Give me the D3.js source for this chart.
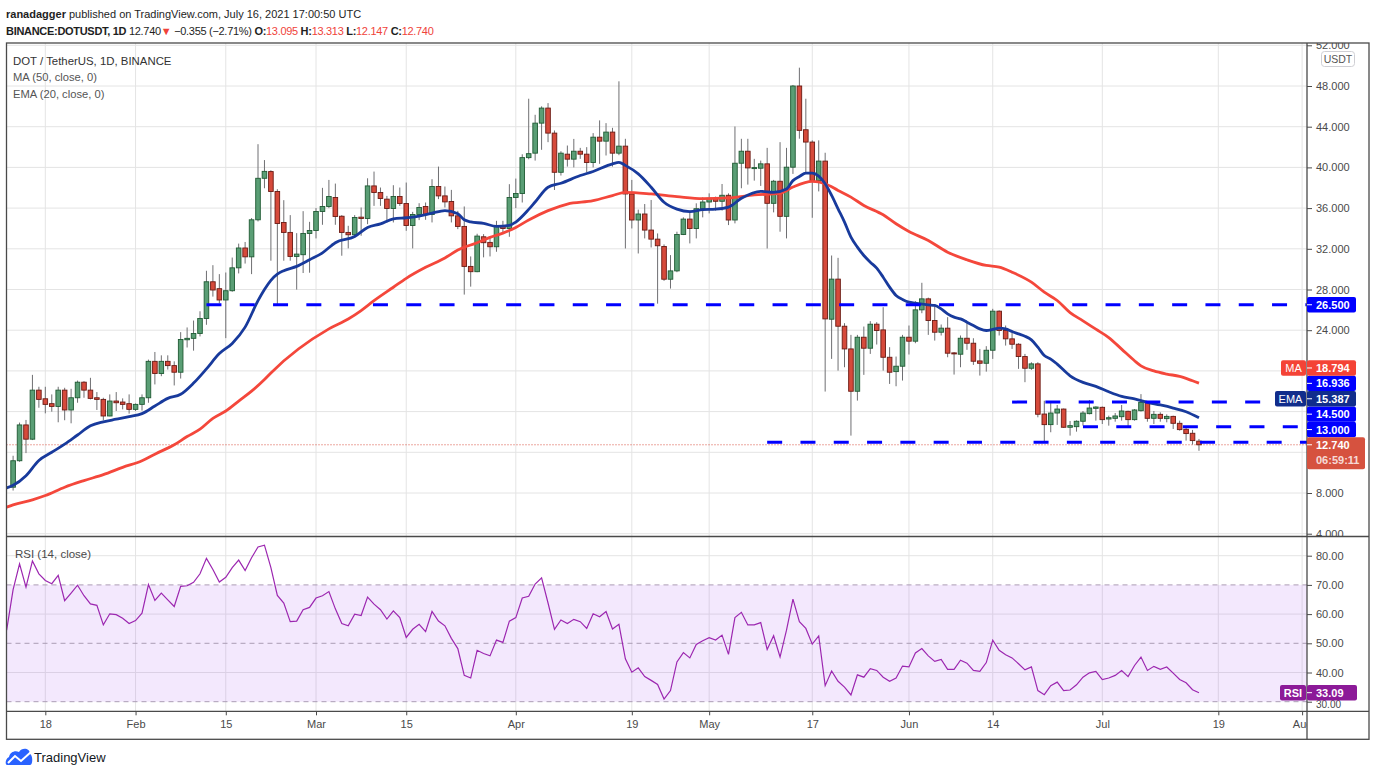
<!DOCTYPE html>
<html><head><meta charset="utf-8">
<script src="https://cdnjs.cloudflare.com/ajax/libs/d3/7.8.5/d3.min.js"></script>
<style>
html,body{margin:0;padding:0;background:#fff;}
svg{display:block;font-family:"Liberation Sans",Arial,sans-serif;}
</style></head>
<body>
<svg id="c" width="1376" height="776"></svg>
<script>
// ===== DATA (DOT/USDT daily, first candle 2021-01-13) =====
const firstDay = [2021, 0, 13];
const open = [
8.57,11.17,14.69,13.29,18.11,17.26,16.78,16.51,18.11,16.16,
17.36,18.89,18.11,17.36,17.20,15.57,17.04,16.94,16.78,16.22,
16.71,17.36,20.94,19.74,20.94,20.52,19.87,23.06,23.20,23.68,
25.15,28.76,28.08,26.97,27.88,30.13,32.08,31.21,34.85,38.93,
39.59,37.63,34.59,33.61,31.25,31.42,33.51,33.80,35.67,36.16,
37.04,35.20,33.61,33.38,35.11,34.98,38.18,37.53,36.88,35.96,
37.14,36.45,34.29,35.37,36.16,35.37,38.12,37.20,36.65,35.24,
34.20,30.27,29.75,33.18,32.63,32.20,34.29,34.00,37.04,37.43,
40.96,41.40,44.35,45.83,43.37,39.52,41.30,40.81,41.59,41.30,
40.48,42.97,42.58,43.47,41.40,42.09,37.39,34.83,35.42,33.84,
32.95,32.23,29.01,29.83,33.41,34.92,34.00,35.94,36.60,36.96,
36.67,37.26,34.83,40.41,41.59,39.90,39.92,40.35,36.47,38.64,
35.19,40.02,48.00,43.70,42.49,38.72,40.62,25.08,29.02,24.39,
22.16,18.00,23.31,22.23,24.59,24.03,21.34,19.93,20.46,23.31,
22.92,26.00,27.08,24.95,23.80,24.20,21.77,21.64,23.21,22.72,
20.98,20.75,22.03,25.87,23.97,23.15,22.62,21.41,20.26,20.69,
15.76,14.72,15.86,16.25,14.46,14.52,15.05,15.80,16.32,16.42,
15.27,15.34,15.50,16.03,15.21,16.09,16.91,15.34,15.73,15.31,
15.53,14.85,14.26,13.87,13.095];
const high = [
11.66,14.92,15.18,19.61,18.44,18.44,17.69,18.44,18.34,18.24,
19.05,18.99,19.32,17.92,17.36,17.69,17.92,17.30,17.69,16.80,
17.69,21.11,21.86,21.53,21.53,20.94,23.81,24.27,24.95,25.86,
29.84,30.39,29.51,29.67,31.14,32.51,32.67,35.02,42.28,40.72,
39.72,37.86,36.78,35.31,33.54,35.70,34.65,36.00,37.99,38.77,
38.41,35.31,34.26,35.31,36.06,38.93,39.59,38.02,37.20,38.25,
38.02,38.51,35.63,36.48,36.55,38.84,40.08,38.12,37.79,35.73,
36.16,31.25,33.48,33.44,33.18,34.75,34.75,38.35,38.90,41.29,
46.75,45.17,46.00,46.32,43.63,41.59,42.15,42.80,41.92,41.99,
43.37,44.62,44.35,43.89,48.46,42.81,38.77,35.85,36.40,36.80,
33.51,32.43,31.38,33.68,35.09,35.75,36.47,37.06,37.45,37.13,
38.37,37.45,44.02,42.81,42.81,40.84,40.67,41.92,38.77,42.48,
41.92,48.10,49.80,46.75,42.66,42.66,41.44,31.34,31.11,24.69,
23.54,23.54,24.36,24.89,24.79,26.26,22.33,21.41,23.54,24.46,
26.85,28.66,27.20,26.56,24.56,25.28,21.85,23.48,24.69,23.21,
22.16,22.43,26.10,25.95,24.46,23.97,22.72,21.67,20.85,20.85,
17.07,16.84,16.65,16.30,15.08,15.14,16.06,17.14,16.52,16.50,
15.60,15.86,16.65,16.09,16.25,17.72,17.00,16.06,15.93,15.73,
15.60,15.11,14.52,14.20,13.313];
const low = [
8.24,11.07,11.92,13.20,16.38,15.83,15.99,14.95,15.15,14.85,
16.87,17.36,17.20,16.16,15.15,15.54,16.06,16.22,15.80,16.06,
16.10,16.87,18.67,19.48,20.13,18.57,19.25,22.30,21.99,23.39,
24.53,27.30,26.64,23.22,27.78,29.58,30.55,29.51,34.69,37.95,
30.83,26.58,30.83,30.83,27.99,29.62,29.65,33.02,34.36,36.00,
34.36,31.32,32.04,33.28,33.28,34.42,36.22,36.22,34.59,34.59,
36.22,33.77,32.04,34.82,34.85,34.59,36.88,36.06,34.59,33.93,
27.50,28.28,29.70,31.16,31.25,31.71,33.54,33.18,36.00,36.55,
40.80,40.67,41.73,42.48,37.78,39.20,40.08,40.00,40.84,39.52,
40.00,40.35,41.17,40.08,41.20,32.03,34.00,31.54,33.02,32.13,
26.61,28.85,28.09,29.70,33.35,32.53,33.02,35.09,35.48,35.75,
35.75,34.33,34.50,37.95,38.31,38.70,38.18,32.03,35.58,33.68,
33.02,39.36,42.82,39.38,35.05,37.64,17.97,21.18,20.03,20.36,
13.64,17.08,19.61,21.67,22.59,20.03,18.72,18.49,19.05,21.61,
22.72,25.67,23.54,22.98,23.48,21.34,19.64,20.36,22.07,20.59,
19.54,19.93,21.18,23.48,22.49,22.16,20.20,18.89,20.10,15.44,
13.08,13.97,14.69,14.40,13.64,14.03,14.62,15.73,15.11,14.78,
14.62,15.01,15.11,14.56,15.11,16.00,15.01,14.78,15.01,14.95,
14.29,14.13,13.15,12.76,12.147];
const close = [
11.17,14.69,13.29,18.11,17.20,16.71,16.51,18.11,16.16,17.36,
18.89,18.11,17.30,17.20,15.57,17.04,16.87,16.71,16.22,16.71,
17.36,20.94,19.74,20.94,20.52,19.87,23.09,23.20,23.68,25.15,
28.76,27.95,26.97,27.88,30.13,32.08,31.21,34.85,38.93,39.61,
37.63,34.49,33.61,31.25,31.48,33.51,33.80,35.67,36.16,37.14,
35.18,33.61,33.38,35.08,34.98,38.18,37.53,36.94,35.96,37.14,
36.45,34.29,35.37,36.06,35.37,38.12,37.20,36.61,35.24,34.20,
30.27,29.75,33.25,32.60,32.20,34.29,34.00,37.04,37.43,40.96,
41.35,44.35,45.83,43.37,39.52,41.40,40.81,41.59,41.30,40.48,
42.97,42.58,43.47,41.40,42.09,37.39,34.83,35.42,33.84,32.95,
32.30,29.01,29.83,33.41,34.92,34.00,35.94,36.60,36.96,36.67,
37.26,34.83,40.41,41.59,39.95,39.98,40.35,36.47,38.64,35.19,
40.02,48.00,43.64,42.49,38.72,40.62,25.11,29.02,24.39,22.16,
18.00,23.31,22.23,24.59,23.97,21.34,19.87,20.46,23.31,22.92,
26.00,27.08,24.95,23.80,24.20,21.74,21.67,23.21,22.72,20.95,
20.75,22.03,25.87,23.97,23.15,22.62,21.41,20.26,20.69,15.74,
14.72,15.86,16.25,14.46,14.62,15.05,15.86,16.35,16.45,15.21,
15.40,15.57,16.06,15.21,16.16,16.91,15.34,15.73,15.34,15.53,
14.85,14.23,13.84,13.15,12.74];
// MA(50) and EMA(20): [day index from first candle, value]
const ma50 = [[-1,6.61],[0,6.84],[3,7.33],[5,7.75],[8,8.57],[11,9.22],[14,9.8],[17,10.52],[20,11.17],[22,11.82],
[25,12.74],[27,13.55],[29,14.27],[31,15.33],[33,16.06],[35,17.04],[37,18.01],[39,19.15],[40,19.8],[49,24.13],
[52,25.1],[54,25.93],[56,26.9],[59,28.22],[61,29.1],[64,30.18],[67,31.1],[69,31.88],[72,32.6],[74,33.12],
[76,33.54],[78,34.1],[80,34.83],[83,35.75],[86,36.4],[90,36.73],[93,37.23],[95,37.55],[99,37.39],[103,37.13],
[107,36.93],[111,37.0],[115,37.29],[119,37.45],[121,38.07],[124,38.62],[126,38.39],[128,37.74],[130,37.08],[132,36.26],
[135,35.34],[137,34.46],[139,33.7],[142,32.82],[145,31.67],[148,30.92],[151,30.36],[153,30.2],[155,29.7],[158,28.72],
[160,27.74],[162,26.92],[164,25.73],[166,24.92],[168,24.1],[170,23.28],[172,22.14],[174,21.0],[175,20.5],[177,20.0],
[179,19.69],[181,19.46],[183,19.03],[184,18.794]];
const ema20 = [[-1,8.5],[0,8.75],[2,9.7],[4,11.2],[6,12.0],[8,12.8],[10,13.7],[12,14.6],[14,15.0],[16,15.25],
[18,15.5],[20,15.8],[22,16.55],[24,17.3],[26,17.7],[28,18.8],[30,20.2],[32,21.7],[34,22.7],[36,24.3],
[38,26.9],[39,28.0],[40,28.9],[41,29.5],[42,29.85],[44,30.27],[46,30.92],[48,31.6],[50,32.6],[53,33.2],
[55,34.1],[57,34.45],[59,34.95],[61,35.05],[63,35.2],[65,35.5],[67,35.76],[69,35.45],[70,34.85],[71,34.65],
[73,34.5],[75,34.2],[77,34.3],[78,34.63],[80,35.87],[81,36.6],[83,38.05],[85,38.44],[88,39.2],[90,39.6],
[93,40.35],[94,40.5],[95,40.2],[97,39.36],[99,38.05],[101,36.57],[103,35.9],[105,35.65],[107,35.85],[109,35.9],
[111,36.1],[113,36.96],[116,37.65],[118,37.55],[120,37.88],[121,38.7],[122,39.1],[123,39.44],[124,39.44],[125,39.15],
[126,38.39],[127,37.25],[128,35.93],[129,34.62],[130,33.15],[131,32.16],[132,31.34],[133,30.69],[134,30.1],[135,29.21],
[136,28.23],[137,27.41],[138,27.02],[139,26.75],[140,26.66],[142,26.49],[143,26.43],[144,26.1],[145,25.61],[146,25.28],
[147,25.11],[148,24.79],[149,24.46],[150,24.13],[151,23.97],[152,24.07],[153,24.2],[154,24.13],[155,23.87],[156,23.64],
[157,23.41],[158,23.05],[159,22.33],[160,21.51],[161,21.16],[162,20.67],[164,19.52],[166,18.87],[168,18.48],[170,17.95],
[172,17.5],[174,17.24],[176,16.91],[178,16.65],[180,16.35],[182,15.99],[184,15.387]];
// RSI(14) daily, first value is the day before the first candle
const rsi = [
54.5,68.4,77.2,69.2,78.2,73.8,71.5,70.4,73.3,64.6,
67.2,69.9,66.3,63.5,63.0,56.3,60.1,59.8,58.6,56.8,
57.8,60.3,70.1,64.7,67.2,64.9,62.6,69.5,69.7,70.9,
73.8,79.1,75.3,71.0,72.6,75.9,78.5,74.9,79.3,83.0,
83.6,75.9,66.4,63.8,57.4,57.6,61.5,62.3,65.5,66.3,
67.7,61.8,56.8,56.0,60.0,59.5,65.8,63.4,61.5,58.3,
61.1,58.8,52.0,54.8,56.5,54.0,60.9,57.6,56.0,51.7,
48.2,39.0,38.1,47.6,46.5,45.7,51.1,50.3,57.6,58.8,
65.5,66.1,70.3,72.4,63.8,54.8,58.0,56.8,58.2,57.4,
55.1,60.1,59.1,60.9,54.9,56.5,44.7,40.1,41.6,38.6,
37.3,35.9,30.9,33.8,43.6,46.8,45.0,49.6,50.9,51.9,
51.1,52.8,46.2,58.8,60.6,56.3,56.3,57.1,47.9,52.6,
45.3,54.5,65.1,57.4,55.1,49.7,52.5,35.5,40.5,37.0,
35.0,32.3,39.2,38.4,41.3,40.7,38.4,37.0,38.1,42.2,
41.9,46.7,48.2,45.7,43.8,44.5,41.1,41.1,44.2,43.2,
40.7,40.4,43.4,51.1,47.6,46.1,45.0,43.0,40.9,41.9,
33.8,32.4,35.5,36.7,33.8,34.0,35.8,38.4,39.9,40.4,
37.6,38.1,39.0,40.7,38.6,42.4,45.3,40.7,42.1,41.1,
41.9,39.8,37.6,36.5,34.1,33.09];
// horizontal drawn levels: value and first day index
const levelValues = [26.5, 16.936, 14.5, 13.0];
const levelStartDay = [30.2, 155.9, 166.9, 117.9];
const priceTicks = [4,8,12,16,20,24,28,32,36,40,44,48,52];
const rsiTicks = [30,40,50,60,70,80];
const timeTickDates = [[0,18],[1,1],[1,15],[2,1],[2,15],[3,1],[3,19],[4,1],[4,17],[5,1],[5,14],[6,1],[6,19],[7,1]];
const timeTickLabels = ["18","Feb","15","Mar","15","Apr","19","May","17","Jun","14","Jul","19","Aug"];
const lastPrice = 12.740, countdown = "06:59:11";

// ===== LAYOUT =====
const plotL = 6.5, plotR = 1307, mainT = 43, mainB = 536.5, rsiB = 711.3, axisB = 739.3, outerR = 1369;
const svg = d3.select("#c");
const dayDate = i => new Date(Date.UTC(firstDay[0], firstDay[1], firstDay[2] + i));
const x = d3.scaleUtc().domain([dayDate(0), new Date(Date.UTC(2021,7,1))]).range([13.1, 1302.1]);
const y = d3.scaleLinear().domain([4,52]).range([533.7, 45.3]);
const yr = d3.scaleLinear().domain([30,80]).range([701.7, 555.7]);
const xd = i => x(dayDate(i));

const defs = svg.append("defs");
const clip = (id,x0,y0,w,h)=>defs.append("clipPath").attr("id",id).append("rect").attr("x",x0).attr("y",y0).attr("width",w).attr("height",h);
clip("cm",plotL,mainT,plotR-plotL,mainB-mainT);
clip("cr",plotL,mainB,plotR-plotL,rsiB-mainB);
clip("cpa",plotR,mainT,outerR-plotR,mainB-mainT);
clip("cra",plotR,mainB,outerR-plotR,rsiB-mainB);
clip("cta",plotL,rsiB,plotR-plotL,axisB-rsiB);

const gridC = "#e4e4e4";
const tickDates = timeTickDates.map(t => new Date(Date.UTC(2021, t[0], t[1])));

// grid
const grid = svg.append("g");
grid.selectAll("line.v").data(tickDates).join("line")
  .attr("x1",d=>x(d)).attr("x2",d=>x(d)).attr("y1",mainT).attr("y2",rsiB)
  .attr("stroke",gridC).attr("stroke-width",1);
grid.selectAll("line.h").data(priceTicks).join("line")
  .attr("x1",plotL).attr("x2",plotR).attr("y1",d=>y(d)).attr("y2",d=>y(d))
  .attr("stroke",gridC).attr("stroke-width",1);
grid.selectAll("line.hr").data([80,60,40]).join("line")
  .attr("x1",plotL).attr("x2",plotR).attr("y1",d=>yr(d)).attr("y2",d=>yr(d))
  .attr("stroke",gridC).attr("stroke-width",1);
svg.append("rect").attr("x",plotL).attr("width",plotR-plotL).attr("y",yr(70)).attr("height",yr(30)-yr(70))
  .attr("fill","rgba(160,80,240,0.13)");
svg.selectAll("line.rd").data([70,50,30]).join("line")
  .attr("x1",plotL).attr("x2",plotR).attr("y1",d=>yr(d)).attr("y2",d=>yr(d))
  .attr("stroke","#ab9db4").attr("stroke-width",1).attr("stroke-dasharray","5,4");

// ===== MAIN PANE =====
const mg = svg.append("g").attr("clip-path","url(#cm)");
mg.append("line").attr("x1",plotL).attr("x2",plotR).attr("y1",y(lastPrice)).attr("y2",y(lastPrice))
  .attr("stroke","#d9503f").attr("stroke-width",1).attr("stroke-dasharray","1,2");
const idx = d3.range(close.length);
const up = i => close[i] >= open[i];
mg.selectAll("line.wick").data(idx).join("line")
  .attr("x1",i=>xd(i)).attr("x2",i=>xd(i)).attr("y1",i=>y(high[i])).attr("y2",i=>y(low[i]))
  .attr("stroke","#6f6f72").attr("stroke-width",1);
const bw = 4.6;
mg.selectAll("rect.body").data(idx).join("rect")
  .attr("x",i=>xd(i)-bw/2).attr("width",bw)
  .attr("y",i=>y(Math.max(open[i],close[i])))
  .attr("height",i=>Math.max(1,Math.abs(y(open[i])-y(close[i]))))
  .attr("fill",i=>up(i)?"#5a9e75":"#d64a3b")
  .attr("stroke",i=>up(i)?"#1f5a33":"#6a1a13").attr("stroke-width",0.9);
const lineGen = d3.line().x(p=>xd(p[0])).y(p=>y(p[1])).curve(d3.curveMonotoneX);
mg.append("path").attr("d",lineGen(ma50)).attr("fill","none").attr("stroke","#f4473b").attr("stroke-width",2.8).attr("stroke-linejoin","round");
mg.append("path").attr("d",lineGen(ema20)).attr("fill","none").attr("stroke","#183a9c").attr("stroke-width",2.8).attr("stroke-linejoin","round");
mg.selectAll("line.lvl").data(levelValues).join("line")
  .attr("x1",(v,k)=>xd(levelStartDay[k])).attr("x2",plotR).attr("y1",v=>y(v)).attr("y2",v=>y(v))
  .attr("stroke","#0000ff").attr("stroke-width",3).attr("stroke-dasharray","15,18.3");

// ===== RSI PANE =====
const rg = svg.append("g").attr("clip-path","url(#cr)");
const rline = d3.line().x((v,k)=>xd(k-1)).y(v=>yr(v));
rg.append("path").attr("d",rline(rsi)).attr("fill","none").attr("stroke","#9c27b0").attr("stroke-width",1.2);
svg.append("text").attr("x",15).attr("y",557.5).attr("font-size",11.5).attr("fill","#4a4a4a").text("RSI (14, close)");

// ===== PRICE LABEL LAYOUT (needed to hide covered axis ticks) =====
const maLast = ma50[ma50.length-1][1], emaLast = ema20[ema20.length-1][1];
const labels = levelValues.map(v=>({v, fill:"#0000ff"}))
  .concat([{v:maLast, fill:"#f44336", tag:"MA"},{v:emaLast, fill:"#112d8c", tag:"EMA"}])
  .sort((a,b)=>a.v-b.v);
const lh = 15.4;
const cpy = y(lastPrice);
let prevTop = cpy - 7.5;
labels.forEach(l=>{ l.cy = Math.min(y(l.v), prevTop - lh/2); prevTop = l.cy - lh/2; });
const boxes = labels.map(l=>[l.cy-lh/2, l.cy+lh/2]).concat([[cpy-7.5, cpy+24.5]]);
const covered = v => boxes.some(b => y(v)+5 > b[0] && y(v)-5 < b[1]);
const rLast = rsi[rsi.length-1], ry = yr(rLast);

// ===== AXES =====
const axC = "#4a4a4a";
const pa = svg.append("g").attr("clip-path","url(#cpa)").append("g").attr("transform",`translate(${plotR},0)`)
  .call(d3.axisRight(y).tickValues(priceTicks.filter(v=>!covered(v))).tickFormat(d=>d.toFixed(3)).tickSize(5).tickPadding(4));
const ra = svg.append("g").attr("clip-path","url(#cra)").append("g").attr("transform",`translate(${plotR},0)`)
  .call(d3.axisRight(yr).tickValues(rsiTicks).tickFormat(d=>d.toFixed(2)).tickSize(5).tickPadding(4));
const ta = svg.append("g").attr("clip-path","url(#cta)").append("g").attr("transform",`translate(0,${rsiB})`)
  .call(d3.axisBottom(x).tickValues(tickDates).tickFormat((d,k)=>timeTickLabels[k]).tickSize(4).tickPadding(5));
[pa,ra,ta].forEach(a=>{
  a.select(".domain").remove();
  a.selectAll("line").attr("stroke",axC);
  a.selectAll("text").attr("fill",axC).attr("font-size",11).attr("font-family","'Liberation Sans',Arial,sans-serif");
});
// the 30.00 label sits partly under the RSI value box, as in the source: show only its lower part
ra.selectAll(".tick").filter(d=>d===30).select("text").attr("font-size",10).attr("dy","0.55em");

// USDT tag
svg.append("rect").attr("x",1321.5).attr("y",51.5).attr("width",33).attr("height",15).attr("rx",3)
  .attr("fill","#fff").attr("stroke","#cfcfd4");
svg.append("text").attr("x",1338).attr("y",62.5).attr("text-anchor","middle").attr("font-size",10.5).attr("fill","#555").text("USDT");

// ===== BORDERS =====
const bd = svg.append("g").attr("stroke","#4a4a4a").attr("stroke-width",1.3);
bd.append("rect").attr("x",plotL).attr("y",mainT).attr("width",outerR-plotL).attr("height",axisB-mainT).attr("fill","none");
bd.append("line").attr("x1",plotL).attr("x2",outerR).attr("y1",mainB).attr("y2",mainB);
bd.append("line").attr("x1",plotL).attr("x2",outerR).attr("y1",rsiB).attr("y2",rsiB);
bd.append("line").attr("x1",plotR).attr("x2",plotR).attr("y1",mainT).attr("y2",axisB);

// ===== PRICE LABELS ON AXIS =====
const lg = svg.append("g").attr("font-size",11).attr("font-weight","bold");
labels.forEach(l=>{
  lg.append("rect").attr("x",plotR).attr("y",l.cy-lh/2).attr("width",49).attr("height",lh).attr("rx",2).attr("fill",l.fill);
  lg.append("line").attr("x1",plotR).attr("x2",plotR+5).attr("y1",l.cy).attr("y2",l.cy).attr("stroke","#fff");
  lg.append("text").attr("x",plotR+9).attr("y",l.cy+4).attr("fill","#fff").text(l.v.toFixed(3));
  if(l.tag){
    const tw = l.tag==="EMA"?31:25;
    lg.append("rect").attr("x",plotR-tw-1).attr("y",l.cy-lh/2).attr("width",tw).attr("height",lh).attr("rx",2).attr("fill",l.fill);
    lg.append("text").attr("x",plotR-1-tw/2).attr("y",l.cy+4).attr("text-anchor","middle").attr("fill","#fff").attr("font-weight","normal").text(l.tag);
  }
});
lg.append("rect").attr("x",plotR).attr("y",cpy-7.5).attr("width",58).attr("height",32).attr("rx",2).attr("fill","#d6523f");
lg.append("line").attr("x1",plotR).attr("x2",plotR+5).attr("y1",cpy).attr("y2",cpy).attr("stroke","#fff");
lg.append("text").attr("x",plotR+9).attr("y",cpy+4).attr("fill","#fff").text(lastPrice.toFixed(3));
lg.append("text").attr("x",plotR+9).attr("y",cpy+19.5).attr("fill","rgba(255,255,255,0.8)").text(countdown);
lg.append("rect").attr("x",plotR).attr("y",ry-lh/2).attr("width",50).attr("height",lh).attr("rx",2).attr("fill","#8c1a98");
lg.append("line").attr("x1",plotR).attr("x2",plotR+5).attr("y1",ry).attr("y2",ry).attr("stroke","#fff");
lg.append("text").attr("x",plotR+9).attr("y",ry+4).attr("fill","#fff").text(rLast.toFixed(2));
lg.append("rect").attr("x",plotR-27).attr("y",ry-lh/2).attr("width",26).attr("height",lh).attr("rx",2).attr("fill","#8c1a98");
lg.append("text").attr("x",plotR-14).attr("y",ry+4).attr("text-anchor","middle").attr("fill","#fff").text("RSI");

// ===== LEGEND =====
svg.append("text").attr("x",13).attr("y",64.5).attr("font-size",11.4).attr("fill","#333").text("DOT / TetherUS, 1D, BINANCE");
svg.append("text").attr("x",13).attr("y",80.5).attr("font-size",11.2).attr("fill","#555").text("MA (50, close, 0)");
svg.append("text").attr("x",13).attr("y",97.5).attr("font-size",11.2).attr("fill","#555").text("EMA (20, close, 0)");

// ===== HEADER =====
const h1 = svg.append("text").attr("x",6).attr("y",17.5).attr("font-size",11).attr("fill","#1e1e1e");
h1.append("tspan").attr("font-weight","bold").text("ranadagger");
h1.append("tspan").text(" published on TradingView.com, July 16, 2021 17:00:50 UTC");
const h2 = svg.append("text").attr("x",6).attr("y",34.5).attr("font-size",11).attr("letter-spacing","-0.3").attr("fill","#1e1e1e");
const red = "#f0433a";
h2.append("tspan").attr("font-weight","bold").text("BINANCE:DOTUSDT, 1D");
h2.append("tspan").text("  12.740");
h2.append("tspan").attr("fill",red).text("▼");
h2.append("tspan").text(" \u22120.355 (\u22122.71%) ");
[["O:","13.095"],["H:","13.313"],["L:","12.147"],["C:","12.740"]].forEach((p,k)=>{
  h2.append("tspan").attr("font-weight","bold").text((k?" ":"")+p[0]);
  h2.append("tspan").attr("fill",red).text(p[1]);
});

// ===== LOGO =====
const logo = svg.append("g");
logo.append("path").attr("fill","#2962ff")
  .attr("d","M7,765 C5,765 5,759 9,757 C10,752 15,750 19,752 C22,747 30,748 30,754 C33,755 33,765 30,765 Z");
logo.append("polyline").attr("points","8,763 15,756 21,761 31,752").attr("fill","none").attr("stroke","#fff").attr("stroke-width",2);
svg.append("text").attr("x",34).attr("y",762).attr("font-size",13).attr("fill","#131722").text("TradingView");
</script>
</body></html>
